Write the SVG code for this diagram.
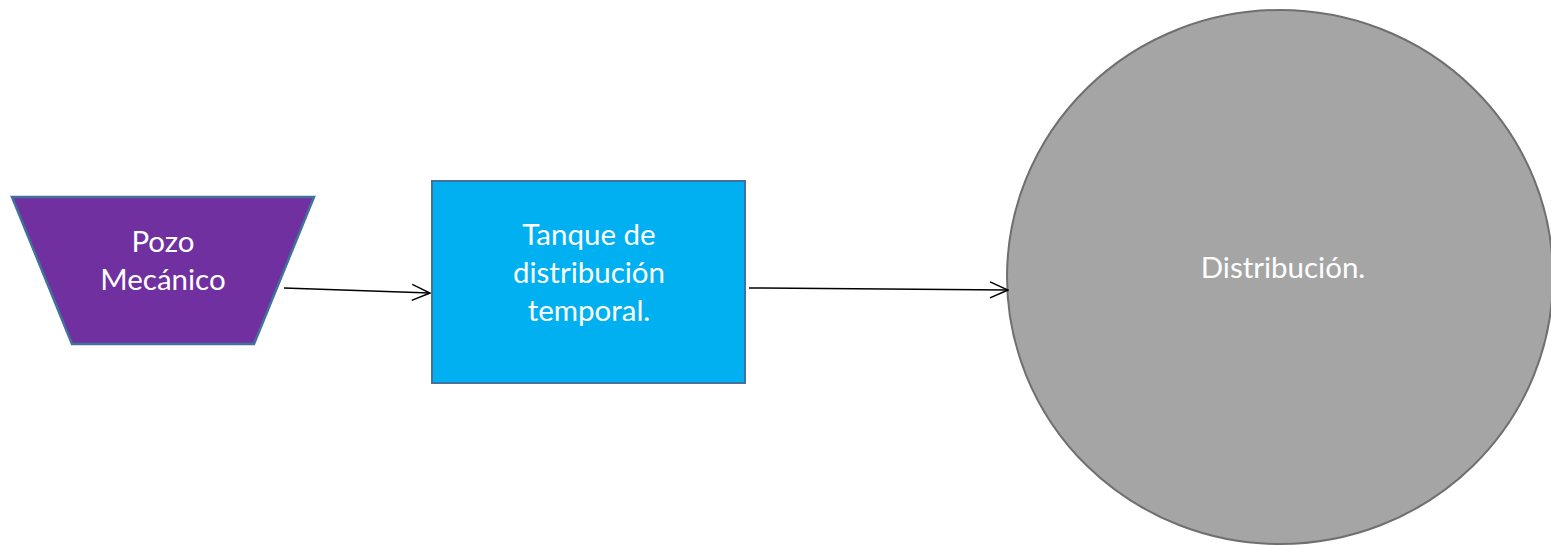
<svg xmlns="http://www.w3.org/2000/svg" width="1551" height="545" viewBox="0 0 1551 545">
<style>
.lbl{font-family:Lato,"Liberation Sans",sans-serif;font-size:29.5px;fill:#fff;text-anchor:middle}
.edge{stroke:#000;stroke-width:1.5;fill:none}
</style>
<defs>
<marker id="arr" viewBox="0 0 20 20" refX="19" refY="10" markerWidth="20" markerHeight="20" markerUnits="userSpaceOnUse" orient="auto">
<path d="M1 2 L19 10 L1 18" fill="none" stroke="#000" stroke-width="1.5"/>
</marker>
</defs>
<rect width="1551" height="545" fill="#fff"/>
<g id="pozo">
<polygon points="12,197 314,197 254,344 72,344" fill="#7030A0" stroke="#41719C" stroke-width="2.5"/>
<text class="lbl" x="163" y="252">Pozo</text>
<text class="lbl" x="163" y="290">Mecánico</text>
</g>
<g id="tanque">
<rect x="432" y="181" width="313" height="202" fill="#00B0F0" stroke="#41719C" stroke-width="2"/>
<text class="lbl" x="589" y="245">Tanque de</text>
<text class="lbl" x="589" y="283">distribución</text>
<text class="lbl" x="589" y="321">temporal.</text>
</g>
<g id="distribucion">
<ellipse cx="1280" cy="277" rx="273" ry="267" fill="#A5A5A5" stroke="#6F6F6F" stroke-width="2"/>
<text class="lbl" x="1283" y="278">Distribución.</text>
</g>
<g id="connectors">
<line class="edge" x1="284" y1="288" x2="430" y2="293" marker-end="url(#arr)"/>
<line class="edge" x1="749" y1="288" x2="1008" y2="290" marker-end="url(#arr)"/>
</g>
</svg>
